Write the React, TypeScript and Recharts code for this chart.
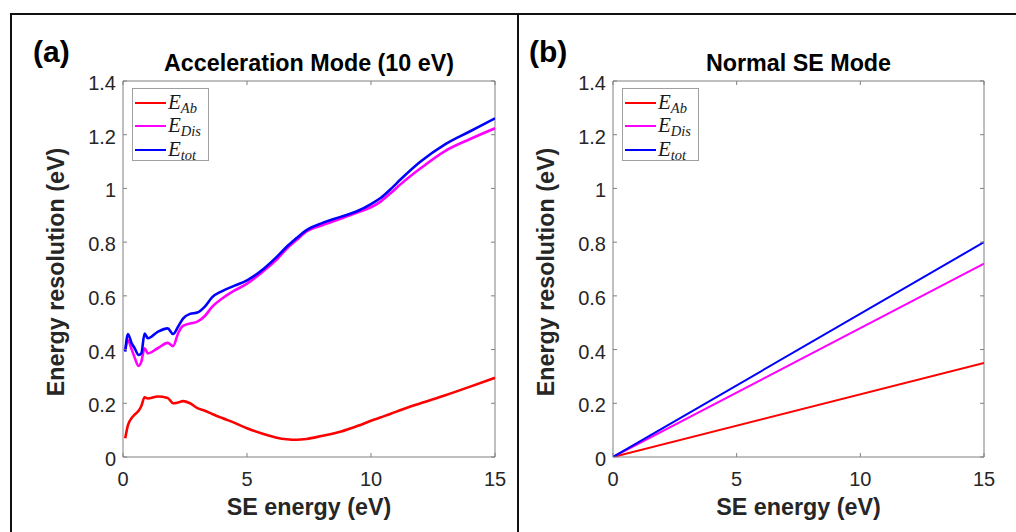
import React from 'react';
import { LineChart, Line, XAxis, YAxis, ReferenceArea, Legend } from 'recharts';

// (a) acceleration mode
const energyA = [
  0.09, 0.2, 0.35, 0.47, 0.63, 0.74, 0.87, 1.0, 1.4, 1.8, 2.02, 2.22, 2.42, 2.7, 3.0, 3.3, 3.6, 4.0,
  4.5, 5.0, 5.7, 6.2, 6.6, 7.0, 7.4, 8.0, 8.8, 9.5, 10.0, 10.4, 10.8, 11.2, 12.0, 13.0, 14.0, 15.0,
];
const absA = [
  0.07, 0.119, 0.145, 0.158, 0.172, 0.19, 0.222, 0.218, 0.225, 0.22, 0.2, 0.203, 0.208, 0.2, 0.182,
  0.172, 0.16, 0.145, 0.127, 0.107, 0.085, 0.072, 0.066, 0.064, 0.067, 0.078, 0.095, 0.117, 0.135,
  0.148, 0.161, 0.175, 0.2, 0.23, 0.262, 0.295,
];
const disA = [
  0.398, 0.435, 0.4, 0.37, 0.339, 0.355, 0.405, 0.386, 0.405, 0.425, 0.413, 0.46, 0.488, 0.497,
  0.504, 0.525, 0.56, 0.59, 0.62, 0.645, 0.695, 0.735, 0.775, 0.808, 0.84, 0.862, 0.888, 0.912,
  0.93, 0.952, 0.983, 1.016, 1.075, 1.14, 1.184, 1.224,
];
const totA = [
  0.392, 0.458, 0.423, 0.405, 0.38, 0.386, 0.46, 0.442, 0.466, 0.479, 0.458, 0.485, 0.515, 0.533,
  0.538, 0.56, 0.595, 0.618, 0.638, 0.658, 0.703, 0.745, 0.783, 0.815, 0.845, 0.87, 0.895, 0.918,
  0.942, 0.965, 0.998, 1.034, 1.1, 1.165, 1.213, 1.261,
];

// (b) normal SE mode, straight lines
const energyB = [0, 15];
const absB = [0, 0.35];
const disB = [0, 0.72];
const totB = [0, 0.8];

const xTicks = [0, 5, 10, 15];
const yTicks = [0, 0.2, 0.4, 0.6, 0.8, 1, 1.2, 1.4];

const series = [
  { key: 'ab', sub: 'Ab', color: '#ff0000' },
  { key: 'dis', sub: 'Dis', color: '#ff00ff' },
  { key: 'tot', sub: 'tot', color: '#0000ff' },
];

const toRows = (xs: number[], ab: number[], dis: number[], tot: number[]) =>
  xs.map((e, i) => ({ e, ab: ab[i], dis: dis[i], tot: tot[i] }));

const SANS = '"Liberation Sans", Arial, Helvetica, sans-serif';
const TICK_COLOR = '#262626';
const BOX_COLOR = '#808080';
const PLOT_TOP = 81;
const PLOT_BOTTOM = 457;
const LABEL_SIZE = 23.3;

const renderLegend = () => (
  <div
    style={{
      border: '1px solid #a0a0a0',
      background: '#fff',
      width: 77,
      height: 73,
      boxSizing: 'border-box',
      padding: '2px 0 0 2px',
    }}
  >
    {series.map((s) => (
      <div key={s.key} style={{ display: 'flex', alignItems: 'center', height: 23.5 }}>
        <span style={{ display: 'inline-block', width: 31, height: 2, background: s.color, marginRight: 2 }} />
        <span style={{ fontFamily: '"Liberation Serif", "Times New Roman", serif', fontStyle: 'italic', fontSize: 21, color: '#1a1a1a', lineHeight: '20px' }}>
          E
          <span style={{ fontSize: 14.5, position: 'relative', top: 4 }}>{s.sub}</span>
        </span>
      </div>
    ))}
  </div>
);

interface PanelProps {
  rows: { e: number; ab: number; dis: number; tot: number }[];
  left: number;
  width: number;
  plotLeft: number;
  plotRight: number;
  smooth: boolean;
  strokeWidth: number;
}

function Panel({ rows, left, width, plotLeft, plotRight, smooth, strokeWidth }: PanelProps) {
  const yAxisWidth = 60;
  const xAxisHeight = 40;

  const xTick = (p: any) => (
    <g>
      <text x={p.x} y={PLOT_BOTTOM + 29} textAnchor="middle" fontSize={20} fill={TICK_COLOR} fontFamily={SANS}>
        {p.payload.value}
      </text>
      <line x1={p.x} x2={p.x} y1={PLOT_BOTTOM} y2={PLOT_BOTTOM - 4} stroke={BOX_COLOR} />
      <line x1={p.x} x2={p.x} y1={PLOT_TOP} y2={PLOT_TOP + 4} stroke={BOX_COLOR} />
    </g>
  );

  const yTick = (p: any) => (
    <g>
      <text x={plotLeft - 7} y={p.y + 9} textAnchor="end" fontSize={20} fill={TICK_COLOR} fontFamily={SANS}>
        {p.payload.value}
      </text>
      <line x1={plotLeft} x2={plotLeft + 4} y1={p.y} y2={p.y} stroke={BOX_COLOR} />
      <line x1={plotRight - 4} x2={plotRight} y1={p.y} y2={p.y} stroke={BOX_COLOR} />
    </g>
  );

  return (
    <div style={{ position: 'absolute', left, top: 0 }}>
      <LineChart
        width={width}
        height={532}
        data={rows}
        margin={{
          top: PLOT_TOP,
          bottom: 532 - PLOT_BOTTOM - xAxisHeight,
          left: plotLeft - yAxisWidth,
          right: width - plotRight,
        }}
      >
        <XAxis
          dataKey="e"
          type="number"
          domain={[0, 15]}
          ticks={xTicks}
          height={xAxisHeight}
          axisLine={false}
          tickLine={false}
          tickSize={0}
          tick={xTick}
          allowDataOverflow
        />
        <YAxis
          type="number"
          domain={[0, 1.4]}
          ticks={yTicks}
          width={yAxisWidth}
          axisLine={false}
          tickLine={false}
          tickSize={0}
          tick={yTick}
          allowDataOverflow
        />
        <ReferenceArea x1={0} x2={15} y1={0} y2={1.4} fill="none" stroke={BOX_COLOR} strokeWidth={1} />
        {series.map((s) => (
          <Line
            key={s.key}
            dataKey={s.key}
            type={smooth ? 'monotone' : 'linear'}
            stroke={s.color}
            strokeWidth={strokeWidth}
            dot={false}
            isAnimationActive={false}
          />
        ))}
        <Legend
          layout="vertical"
          align="center"
          verticalAlign="middle"
          content={renderLegend}
          wrapperStyle={{ left: plotLeft + 9, top: 88, width: 77, height: 73 }}
        />
      </LineChart>
    </div>
  );
}

export default function App() {
  const rowsA = toRows(energyA, absA, disA, totA);
  const rowsB = toRows(energyB, absB, disB, totB);

  return (
    <div style={{ position: 'absolute', left: 0, top: 0, width: 1016, height: 532, background: '#fff', fontFamily: SANS }}>
      <Panel rows={rowsA} left={0} width={518} plotLeft={123} plotRight={495} smooth strokeWidth={2.6} />
      <Panel rows={rowsB} left={518} width={498} plotLeft={95} plotRight={466} smooth={false} strokeWidth={2} />
      <svg
        width={1016}
        height={532}
        style={{ position: 'absolute', left: 0, top: 0, pointerEvents: 'none' }}
        fontFamily={SANS}
      >
        <line x1={11} x2={1016} y1={14} y2={14} stroke="#111" strokeWidth={2} />
        <line x1={11} x2={11} y1={13} y2={532} stroke="#111" strokeWidth={2} />
        <line x1={518} x2={518} y1={13} y2={532} stroke="#111" strokeWidth={2} />

        <text x={33} y={62} fontSize={30} fontWeight="bold" fill="#000">(a)</text>
        <text x={529} y={62} fontSize={30} fontWeight="bold" fill="#000">(b)</text>

        <text x={309} y={71} fontSize={LABEL_SIZE} fontWeight="bold" textAnchor="middle" fill="#000">
          Acceleration Mode (10 eV)
        </text>
        <text x={798.5} y={71} fontSize={LABEL_SIZE} fontWeight="bold" textAnchor="middle" fill="#000">
          Normal SE Mode
        </text>

        <text x={309} y={515} fontSize={LABEL_SIZE} fontWeight="bold" textAnchor="middle" fill={TICK_COLOR}>
          SE energy (eV)
        </text>
        <text x={798.5} y={515} fontSize={LABEL_SIZE} fontWeight="bold" textAnchor="middle" fill={TICK_COLOR}>
          SE energy (eV)
        </text>

        <text transform="translate(64 272) rotate(-90)" fontSize={LABEL_SIZE} fontWeight="bold" textAnchor="middle" fill={TICK_COLOR}>
          Energy resolution (eV)
        </text>
        <text transform="translate(554 272) rotate(-90)" fontSize={LABEL_SIZE} fontWeight="bold" textAnchor="middle" fill={TICK_COLOR}>
          Energy resolution (eV)
        </text>
      </svg>
    </div>
  );
}
